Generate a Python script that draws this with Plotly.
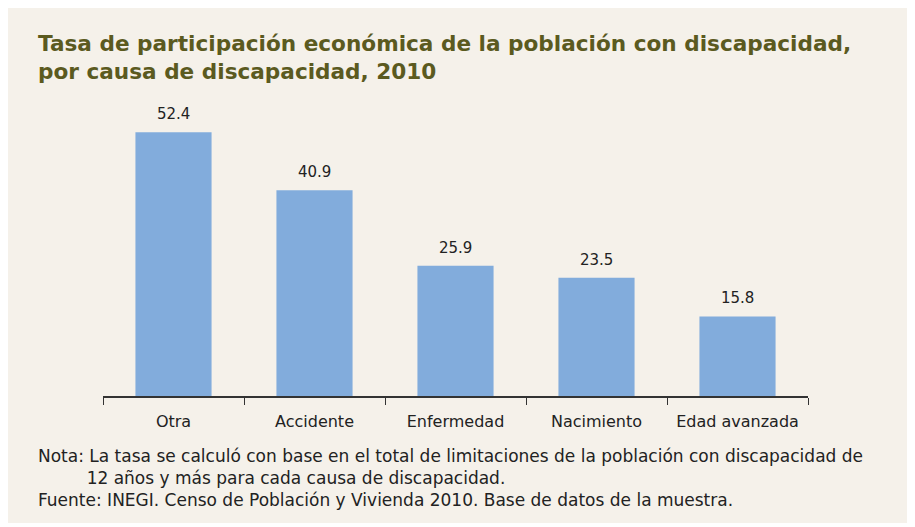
import plotly.graph_objects as go

causas = ["Otra", "Accidente", "Enfermedad", "Nacimiento", "Edad avanzada"]
tasas = [52.4, 40.9, 25.9, 23.5, 15.8]

titulo = ("Tasa de participación económica de la población con discapacidad,<br>"
          "por causa de discapacidad, 2010")
nota = ("Nota: La tasa se calculó con base en el total de limitaciones de la población con discapacidad de<br>"
        "         12 años y más para cada causa de discapacidad.<br>"
        "Fuente: INEGI. Censo de Población y Vivienda 2010. Base de datos de la muestra.")

# the page body adds an 8px margin, so screen coords are shifted by OFF
OFF = 8
W, H = 915, 527
plot_left, plot_right, plot_top, plot_bottom = 103, 808, 94, 396
L = plot_left - OFF
R = W - (plot_right - OFF)
T = plot_top - OFF
B = H - (plot_bottom - OFF)
pw, ph = W - L - R, H - T - B


def px(x):
    return (x - OFF - L) / pw


def py(y):
    return (H - B - (y - OFF)) / ph


FONT = "DejaVu Sans, Liberation Sans, Arial, sans-serif"

fig = go.Figure()
fig.add_trace(go.Bar(
    x=causas,
    y=tasas,
    marker=dict(color="#82acdc", line=dict(width=0)),
    hoverinfo="x+y",
    showlegend=False,
))

# value labels above the bars
for c, v in zip(causas, tasas):
    fig.add_annotation(x=c, y=v, text=f"{v:.1f}", showarrow=False,
                       xanchor="center", yanchor="bottom", yshift=7,
                       font=dict(size=15, color="#222222"))

fig.update_layout(
    width=W,
    height=H,
    margin=dict(l=L, r=R, t=T, b=B),
    paper_bgcolor="white",
    plot_bgcolor="rgba(0,0,0,0)",
    font=dict(family=FONT, color="#222222"),
    bargap=0.46,
    xaxis=dict(
        showline=True,
        linecolor="#333333",
        linewidth=1.5,
        ticks="outside",
        tickson="boundaries",
        ticklen=7,
        tickcolor="#333333",
        tickfont=dict(size=16, color="#222222"),
        ticklabelstandoff=10,
        showgrid=False,
    ),
    yaxis=dict(range=[0, 60], visible=False, showgrid=False),
    shapes=[dict(
        type="rect", xref="paper", yref="paper", layer="below",
        x0=px(4), x1=px(910), y0=py(6), y1=py(523),
        fillcolor="#f5f1ea", line=dict(width=0),
    )],
)
fig.add_annotation(text=f"<b>{titulo}</b>", xref="paper", yref="paper",
                   x=px(36), y=py(29), xanchor="left", yanchor="top", align="left",
                   showarrow=False, font=dict(size=21.6, color="#5b5a1f"))
fig.add_annotation(text=nota, xref="paper", yref="paper",
                   x=px(36), y=py(444), xanchor="left", yanchor="top", align="left",
                   showarrow=False, font=dict(size=17, color="#222222"))

fig.write_html("out.html")
